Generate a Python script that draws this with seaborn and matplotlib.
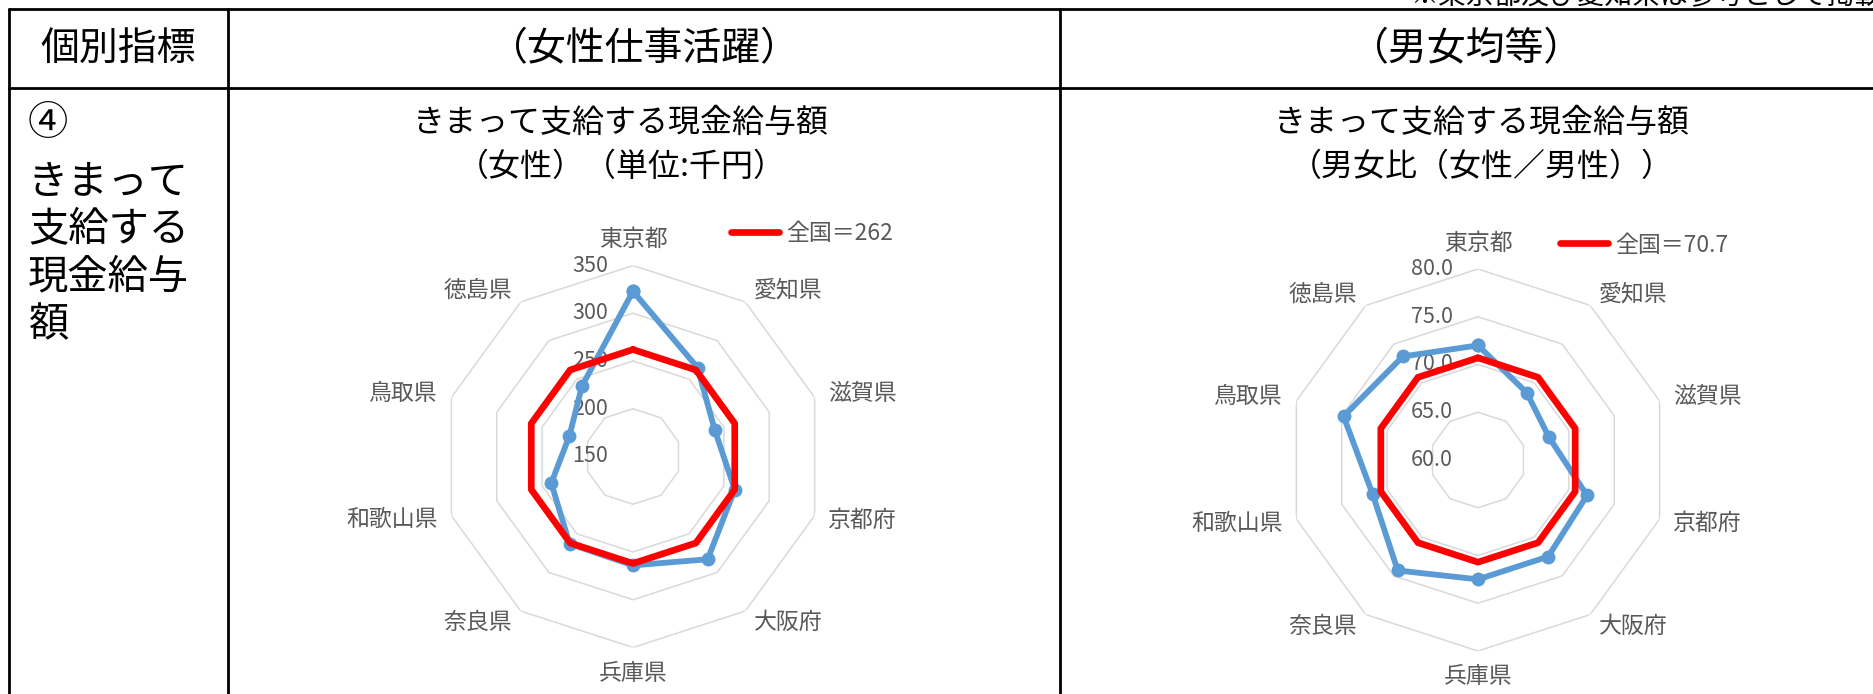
import numpy as np
import pandas as pd
import matplotlib.pyplot as plt
import seaborn as sns
from matplotlib.lines import Line2D

sns.set_theme(style="white")
plt.rcParams["font.family"] = ["Noto Sans CJK JP", "DejaVu Sans"]

# data
prefs = ["東京都", "愛知県", "滋賀県", "京都府", "大阪府",
         "兵庫県", "奈良県", "和歌山県", "鳥取県", "徳島県"]

wage_female = [323, 265, 240, 262, 283, 264, 263, 240, 220, 241]
wage_all = 262
wage_ticks = [150, 200, 250, 300, 350]

ratio_female = [72.0, 68.7, 67.8, 72.0, 72.5, 72.5, 74.3, 71.6, 74.8, 73.4]
ratio_all = 70.7
ratio_ticks = [60.0, 65.0, 70.0, 75.0, 80.0]

W, H = 1874, 694
BLUE = "#5B9BD5"
RED = "#FF0000"
GRAY = "#595959"

fig = plt.figure(figsize=(W / 100, H / 100), dpi=100)


def fx(px):
    return px / W


def fy(py):
    return 1 - py / H


def radar(cx, cy, rad, values, national, ticks, fmt, leg_x, leg_y):
    ax = fig.add_axes([fx(cx - rad), fy(cy + rad), 2 * rad / W, 2 * rad / H],
                      projection="polar")
    n = len(prefs)
    theta = np.linspace(0, 2 * np.pi, n, endpoint=False)
    theta_c = np.append(theta, theta[0])
    ax.set_theta_zero_location("N")
    ax.set_theta_direction(-1)

    # polygon grid like excel
    for t in ticks[1:]:
        ax.plot(theta_c, [t] * (n + 1), color="#D9D9D9", lw=1.1, zorder=1)

    df = pd.DataFrame({"theta": theta_c,
                       "value": list(values) + [values[0]],
                       "all": national})
    sns.lineplot(data=df, x="theta", y="value", ax=ax, sort=False, estimator=None,
                 color=BLUE, lw=4.2, marker="o", markersize=10,
                 markeredgewidth=0, zorder=3)
    sns.lineplot(data=df, x="theta", y="all", ax=ax, sort=False, estimator=None,
                 color=RED, lw=4.8, zorder=4, label=f"全国＝{national}")

    ax.set_ylim(ticks[0], ticks[-1])
    ax.set_xticks([])
    ax.set_yticks([])
    ax.grid(False)
    ax.spines["polar"].set_visible(False)
    ax.set_xlabel("")
    ax.set_ylabel("")

    for t in ticks:
        ax.annotate(fmt.format(t), xy=(0, t), xytext=(-18, 0),
                    textcoords="offset points", ha="right", va="center",
                    fontsize=15.5, color=GRAY, zorder=2, annotation_clip=False)

    r_lab = ticks[0] + 1.075 * (ticks[-1] - ticks[0])
    for i, name in enumerate(prefs):
        deg = i * 360 / n
        if deg == 0:
            ha, va = "center", "bottom"
        elif deg == 180:
            ha, va = "center", "top"
        elif deg < 180:
            ha, va = "left", "center"
        else:
            ha, va = "right", "center"
        ax.text(theta[i], r_lab, name, ha=ha, va=va, fontsize=16.5, color=GRAY)

    leg = ax.legend(loc="center left", bbox_to_anchor=(fx(leg_x), fy(leg_y)),
                    bbox_transform=fig.transFigure, frameon=False, fontsize=16.5,
                    handlelength=2.1, handletextpad=0.3, borderpad=0,
                    borderaxespad=0, labelcolor=GRAY)
    for h in leg.get_lines():
        h.set_solid_capstyle("round")
    return ax


radar(633, 456.5, 191, wage_female, wage_all, wage_ticks, "{:.0f}", 731, 234)
radar(1478, 460, 191, ratio_female, ratio_all, ratio_ticks, "{:.1f}", 1560, 245)

# table frame
for y in [9, 88]:
    fig.add_artist(Line2D([fx(9), fx(W)], [fy(y), fy(y)], color="black", lw=2))
for x in [9, 228, 1060]:
    fig.add_artist(Line2D([fx(x), fx(x)], [fy(9), fy(H)], color="black", lw=2))

fig.text(fx(118.5), fy(49), "個別指標", ha="center", va="center", fontsize=28, color="black")
fig.text(fx(644), fy(49), "（女性仕事活躍）", ha="center", va="center", fontsize=28, color="black")
fig.text(fx(1467), fy(49), "（男女均等）", ha="center", va="center", fontsize=28, color="black")

body = ["④", "きまって", "支給する", "現金給与", "額"]
for line, y in zip(body, [124, 182, 229, 277, 325]):
    fig.text(fx(28), fy(y), line, ha="left", va="center", fontsize=29, color="black")

fig.text(fx(621), fy(123), "きまって支給する現金給与額", ha="center", va="center", fontsize=23, color="black")
fig.text(fx(621), fy(167), "（女性）（単位:千円）", ha="center", va="center", fontsize=23, color="black")
fig.text(fx(1482), fy(123), "きまって支給する現金給与額", ha="center", va="center", fontsize=23, color="black")
fig.text(fx(1482), fy(167), "（男女比（女性／男性））", ha="center", va="center", fontsize=23, color="black")

fig.text(fx(1410), fy(4), "※東京都及び愛知県は参考として掲載", ha="left", va="baseline",
         fontsize=20, color="black")

fig.savefig("out.png", dpi=100)
